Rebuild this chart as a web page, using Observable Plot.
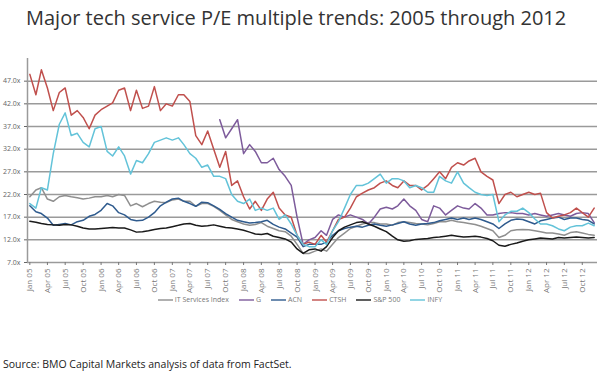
<!DOCTYPE html>
<html><head><meta charset="utf-8">
<script src="https://cdn.jsdelivr.net/npm/d3@7"></script>
<script src="https://cdn.jsdelivr.net/npm/@observablehq/plot@0.6"></script>
<style>
body{margin:0;background:#fff;font-family:"Open Sans",sans-serif;}
#wrap{position:relative;width:600px;height:375px;overflow:hidden;background:#fff;}
#title{position:absolute;left:26px;top:4px;font-size:20px;color:#333;white-space:nowrap;}
#chart{position:absolute;left:0;top:40px;}
#legend{position:absolute;left:0;width:600px;top:295px;display:flex;justify-content:center;align-items:center;font-size:7px;color:#777;white-space:nowrap;}
#legend .item{display:flex;align-items:center;margin:0 5px;}
#legend svg{margin-right:2px;}
#caption{position:absolute;left:3px;top:357px;font-size:10.5px;color:#222;white-space:nowrap;}
</style></head>
<body><div id="wrap">
<div id="title">Major tech service P/E multiple trends: 2005 through 2012</div>
<div id="chart"></div>
<div id="legend"></div>
<div id="caption">Source: BMO Capital Markets analysis of data from FactSet.</div>
</div>
<script>
// Monthly P/E readings, Jan 2005 .. Dec 2012 (96 months)
const seriesNames = ["IT Services Index", "G", "ACN", "CTSH", "S&P 500", "INFY"];
const seriesColors = ["#8f8f8f", "#7d5b9b", "#2f5b8e", "#c0504d", "#1a1a1a", "#63c3d9"];

const itServices = [21.5,23,23.5,21,20.5,21.5,21.8,21.5,21.3,21,21.2,21.5,21.5,21.8,21.5,22,21.8,19.5,20,19.3,20,20.5,20.3,20.2,20.8,
  21,20.5,20.5,19.4,20,20,19.4,18.5,17.5,16.5,16,15.5,15.2,15.4,15.8,15,14.5,14,13.8,12.8,11,
  9,9,9.5,10,9.5,11,12.5,13.5,14.5,15,15.5,15.8,15.8,15.5,15.5,15.2,15.8,16,15.8,15.6,15.5,15.3,15.6,16,16,16.3,16,15.8,15.6,15.4,15,14.5,14,12.5,13,14,14.2,14.3,14.2,14,13.8,13.5,13.5,13.3,13,13.6,13.8,13.5,13.2,13];

const genpact = [null,null,null,null,null,null,null,null,null,null,null,null,null,null,null,null,null,null,null,null,null,null,null,null,null,
  null,null,null,null,null,null,null,38.5,34.5,36.5,38.5,31,33,31.5,29,29,30,27.5,26,24,17,
  11,12,12.5,14,13,16.5,17.5,17,17.5,17,16.5,15.5,17,18.8,19.2,18.8,19.5,21,19.5,18.5,16.5,16,19.5,19,17.5,18.5,19.5,19,18.8,20,19,17.5,17.5,17.8,18,18,17.8,17.8,17.5,17.8,17.5,17.2,17.5,17.8,17.5,17.2,17.8,18,17.8,15.8];

const acn = [19.5,18.2,17.8,16.8,15.2,15.4,15.6,15.3,16,16.3,17.2,17.6,18.5,20,19.5,18,17.5,16.5,16.2,16.3,17,18,19.5,20.3,21,
  21.2,20.5,20,19.4,20.3,20.2,19.5,18.7,17.8,17,16.3,16,15.7,15.8,16,16.3,15.4,14.8,14.4,13.5,12.6,
  10.5,11,11,11,11.5,13,14,14.5,14.8,15,14.8,15.2,15.5,15.2,15,15.3,15.6,16,15.5,15.2,15.5,15.6,15.8,16.2,16.5,16.8,16.5,16.8,16.5,16.8,16.5,16,15.5,14.5,15.5,16.3,16.6,16.5,16,15.5,16.2,16.5,16.8,17,16.5,16.8,16.8,16.5,16.3,15.5];

const ctsh = [48.5,44,49.5,45.5,40.5,44.5,45.5,39.5,40.5,39,36.5,39.5,40.7,41.5,42.2,45,45.5,40.5,45,41,41.5,45.8,40.5,42,41.5,
  44,44,42.5,35,33,36,32,28,31.5,24,25,21.5,18.8,20.5,18.5,21,22.5,19,17.5,17,13,
  11,11.5,11,13,11.5,14,16.5,17,19,21.5,22.3,23,23.5,24.5,25,24,23.5,25,24,24,23,24,25.5,27,25.5,28,29,28.5,29.4,30,27,26,25.2,20,22,22.5,21.5,22,22.5,22,22.3,18,16.8,17.2,17.5,18,19,18,17,19];

const sp500 = [16.1,15.9,15.6,15.4,15.3,15.2,15.4,15.3,15,14.6,14.4,14.4,14.5,14.6,14.7,14.6,14.6,14.2,13.7,13.8,14,14.3,14.5,14.6,14.9,
  15.2,15.5,15.6,15.2,15,15.1,15.3,15,14.7,14.6,14.4,14.1,13.7,13.3,13.2,13.4,12.8,12.5,12.2,11.5,10,
  9,9.8,10,9.5,10.5,12.5,14,14.8,15.3,15.8,16,15.5,15,14.4,13.8,12.8,12,11.7,11.8,12.1,12.2,12.3,12.5,12.6,12.8,13,12.8,12.6,12.7,12.8,12.6,12.3,11.8,10.8,10.6,11,11.3,11.7,12,12.2,12.4,12.3,12.2,12.5,12.4,12.5,12.6,12.5,12.4,12.5];

const infy = [20,19,23.5,23,31,37.5,40,35,35.5,33.5,32.5,36.5,37,31.5,30.5,32.5,30.5,26.5,29.5,29,31,33.5,34,34.5,34,
  34.5,33,31,30,28,28.5,26,26,25.5,22,20.5,20,21,18.5,19,18.5,19,16.5,17.5,15.5,13,
  11,10.5,10.5,12,11,14,16,19,22,24,24,24.5,25.5,26.5,24.5,25.5,25.5,25,23.5,24,23.5,22.5,22.5,26,25,24.5,27,24.5,23.5,22.5,22,21.8,22,16,17.5,18.3,18.3,19,18,16.6,15.5,15.5,15.1,14.4,14,14.8,15.1,15.1,15.7,15.1];

const yTicks = [7,12,17,22,27,32,37,42,47];
const xTickLabels = ["Jan 05","Apr 05","Jul 05","Oct 05","Jan 06","Apr 06","Jul 06","Oct 06",
  "Jan 07","Apr 07","Jul 07","Oct 07","Jan 08","Apr 08","Jul 08","Oct 08",
  "Jan 09","Apr 09","Jul 09","Oct 09","Jan 10","Apr 10","Jul 10","Oct 10",
  "Jan 11","Apr 11","Jul 11","Oct 11","Jan 12","Apr 12","Jul 12","Oct 12"];

const parseTick = d3.utcParse("%b %y");
const fmtTick = d3.utcFormat("%b %y");
const xTicks = xTickLabels.map(parseTick);
const dates = d3.range(96).map(i => new Date(Date.UTC(2005, i, 1)));
const allSeries = [itServices, genpact, acn, ctsh, sp500, infy];
const rows = [];
allSeries.forEach((arr, k) => arr.forEach((v, i) => {
  if (v != null) rows.push({date: dates[i], value: v, series: seriesNames[k]});
}));

const xStart = new Date(Date.UTC(2004, 11, 20));
const xEnd = new Date(Date.UTC(2012, 11, 18));

const chart = Plot.plot({
  width: 600, height: 255,
  marginTop: 18, marginBottom: 33, marginLeft: 27, marginRight: 3,
  style: {fontFamily: "Open Sans", background: "#fff"},
  x: {type: "utc", domain: [xStart, xEnd], label: null},
  y: {domain: [7, 52], label: null},
  color: {domain: seriesNames, range: seriesColors},
  marks: [
    Plot.ruleY(yTicks, {stroke: "#9a9a9a", strokeWidth: 1.5}),
    Plot.ruleX([xStart], {y1: 7, y2: 52, stroke: "#9a9a9a", strokeWidth: 1.5}),
    Plot.line(rows, {x: "date", y: "value", z: "series", stroke: "series", strokeWidth: 1.5}),
    Plot.axisY(yTicks, {tickFormat: d => d.toFixed(1) + "x", tickSize: 3, tickPadding: 4, fontSize: 7, color: "#666"}),
    Plot.axisX(xTicks, {tickFormat: d => fmtTick(d), tickRotate: -90, tickSize: 3, tickPadding: 3, fontSize: 8, color: "#777"})
  ]
});
document.getElementById("chart").appendChild(chart);

const legend = document.getElementById("legend");
seriesNames.forEach((name, k) => {
  const item = document.createElement("div");
  item.className = "item";
  item.innerHTML = `<svg width="15" height="4"><line x1="0" y1="2" x2="15" y2="2" stroke="${seriesColors[k]}" stroke-width="1.4"/></svg><span>${name.replace("&", "&amp;")}</span>`;
  legend.appendChild(item);
});
</script>
</body></html>
